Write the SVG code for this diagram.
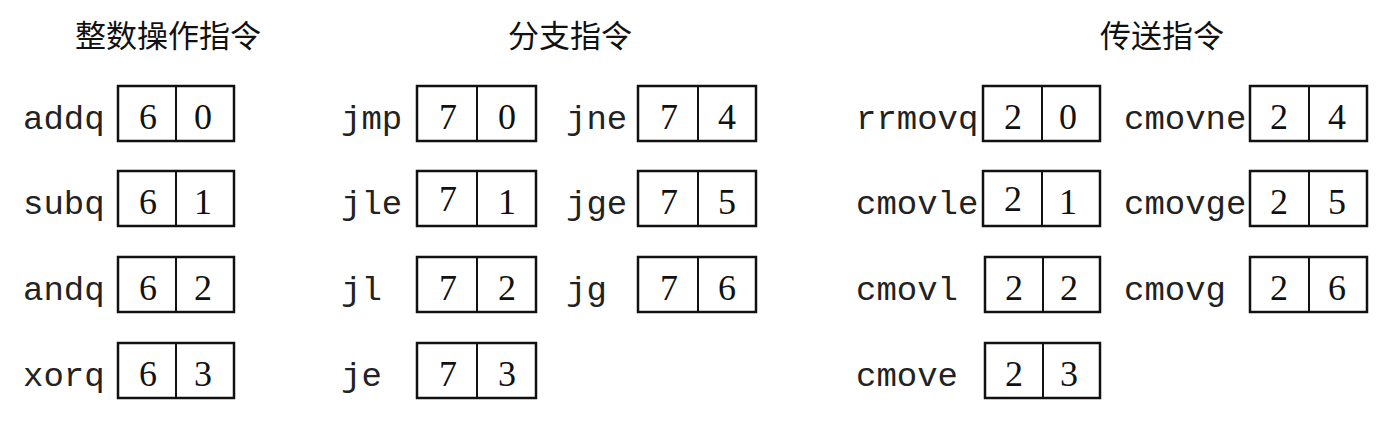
<svg xmlns="http://www.w3.org/2000/svg" width="1400" height="424" viewBox="0 0 1400 424">
<style>
.bg{fill:#ffffff}
.hd{font-family:"Noto Sans CJK SC","Noto Sans",sans-serif;font-size:31px;fill:#111;text-anchor:middle}
.lb{font-family:"Liberation Mono","Courier New",monospace;font-size:34px;fill:#222}
.dg{font-family:"Liberation Serif","Times New Roman",serif;font-size:36px;fill:#111;text-anchor:middle}
.bx{fill:#fff;stroke:#111;stroke-width:2.5}
.dv{stroke:#111;stroke-width:2}
</style>
<rect class="bg" x="0" y="0" width="1400" height="424"/>
<g id="headers">
<text class="hd" x="168" y="47">整数操作指令</text>
<text class="hd" x="570" y="47">分支指令</text>
<text class="hd" x="1162" y="47">传送指令</text>
</g>
<g id="connectors"/>
<!-- integer ops -->
<g id="addq"><text class="lb" x="23" y="129">addq</text><rect class="bx" x="118" y="86" width="116" height="55"/><line class="dv" x1="176" y1="86" x2="176" y2="141"/><text class="dg" x="148" y="129">6</text><text class="dg" x="203" y="129">0</text></g>
<g id="subq"><text class="lb" x="23" y="214">subq</text><rect class="bx" x="118" y="171" width="116" height="55"/><line class="dv" x1="176" y1="171" x2="176" y2="226"/><text class="dg" x="148" y="214">6</text><text class="dg" x="203" y="214">1</text></g>
<g id="andq"><text class="lb" x="23" y="300">andq</text><rect class="bx" x="118" y="257" width="116" height="55"/><line class="dv" x1="176" y1="257" x2="176" y2="312"/><text class="dg" x="148" y="300">6</text><text class="dg" x="203" y="300">2</text></g>
<g id="xorq"><text class="lb" x="23" y="386">xorq</text><rect class="bx" x="118" y="343" width="116" height="55"/><line class="dv" x1="176" y1="343" x2="176" y2="398"/><text class="dg" x="148" y="386">6</text><text class="dg" x="203" y="386">3</text></g>
<!-- branch -->
<g id="jmp"><text class="lb" x="341" y="129">jmp</text><rect class="bx" x="417" y="86" width="119" height="55"/><line class="dv" x1="477" y1="86" x2="477" y2="141"/><text class="dg" x="448" y="129">7</text><text class="dg" x="507" y="129">0</text></g>
<g id="jle"><text class="lb" x="341" y="214">jle</text><rect class="bx" x="417" y="171" width="119" height="55"/><line class="dv" x1="477" y1="171" x2="477" y2="226"/><text class="dg" x="448" y="211">7</text><text class="dg" x="507" y="214">1</text></g>
<g id="jl"><text class="lb" x="341" y="300">jl</text><rect class="bx" x="417" y="257" width="119" height="55"/><line class="dv" x1="477" y1="257" x2="477" y2="312"/><text class="dg" x="448" y="300">7</text><text class="dg" x="507" y="300">2</text></g>
<g id="je"><text class="lb" x="341" y="386">je</text><rect class="bx" x="417" y="343" width="119" height="55"/><line class="dv" x1="477" y1="343" x2="477" y2="398"/><text class="dg" x="448" y="386">7</text><text class="dg" x="507" y="386">3</text></g>
<g id="jne"><text class="lb" x="566" y="129">jne</text><rect class="bx" x="638" y="86" width="118" height="55"/><line class="dv" x1="698" y1="86" x2="698" y2="141"/><text class="dg" x="669" y="129">7</text><text class="dg" x="727" y="129">4</text></g>
<g id="jge"><text class="lb" x="566" y="214">jge</text><rect class="bx" x="638" y="171" width="118" height="55"/><line class="dv" x1="698" y1="171" x2="698" y2="226"/><text class="dg" x="669" y="214">7</text><text class="dg" x="727" y="214">5</text></g>
<g id="jg"><text class="lb" x="566" y="300">jg</text><rect class="bx" x="638" y="257" width="118" height="55"/><line class="dv" x1="698" y1="257" x2="698" y2="312"/><text class="dg" x="669" y="300">7</text><text class="dg" x="727" y="300">6</text></g>
<!-- move -->
<g id="rrmovq"><text class="lb" x="856" y="129">rrmovq</text><rect class="bx" x="983" y="86" width="117" height="55"/><line class="dv" x1="1042" y1="86" x2="1042" y2="141"/><text class="dg" x="1013" y="129">2</text><text class="dg" x="1068" y="129">0</text></g>
<g id="cmovle"><text class="lb" x="856" y="214">cmovle</text><rect class="bx" x="983" y="171" width="117" height="55"/><line class="dv" x1="1042" y1="171" x2="1042" y2="226"/><text class="dg" x="1013" y="211">2</text><text class="dg" x="1068" y="214">1</text></g>
<g id="cmovl"><text class="lb" x="856" y="300">cmovl</text><rect class="bx" x="985" y="257" width="115" height="55"/><line class="dv" x1="1043" y1="257" x2="1043" y2="312"/><text class="dg" x="1014" y="300">2</text><text class="dg" x="1069" y="300">2</text></g>
<g id="cmove"><text class="lb" x="856" y="386">cmove</text><rect class="bx" x="985" y="343" width="115" height="55"/><line class="dv" x1="1043" y1="343" x2="1043" y2="398"/><text class="dg" x="1014" y="386">2</text><text class="dg" x="1069" y="386">3</text></g>
<g id="cmovne"><text class="lb" x="1124" y="129">cmovne</text><rect class="bx" x="1250" y="86" width="117" height="55"/><line class="dv" x1="1309" y1="86" x2="1309" y2="141"/><text class="dg" x="1279" y="129">2</text><text class="dg" x="1337" y="129">4</text></g>
<g id="cmovge"><text class="lb" x="1124" y="214">cmovge</text><rect class="bx" x="1250" y="171" width="117" height="55"/><line class="dv" x1="1309" y1="171" x2="1309" y2="226"/><text class="dg" x="1279" y="214">2</text><text class="dg" x="1337" y="214">5</text></g>
<g id="cmovg"><text class="lb" x="1124" y="300">cmovg</text><rect class="bx" x="1250" y="257" width="117" height="55"/><line class="dv" x1="1309" y1="257" x2="1309" y2="312"/><text class="dg" x="1279" y="300">2</text><text class="dg" x="1337" y="300">6</text></g>
</svg>
